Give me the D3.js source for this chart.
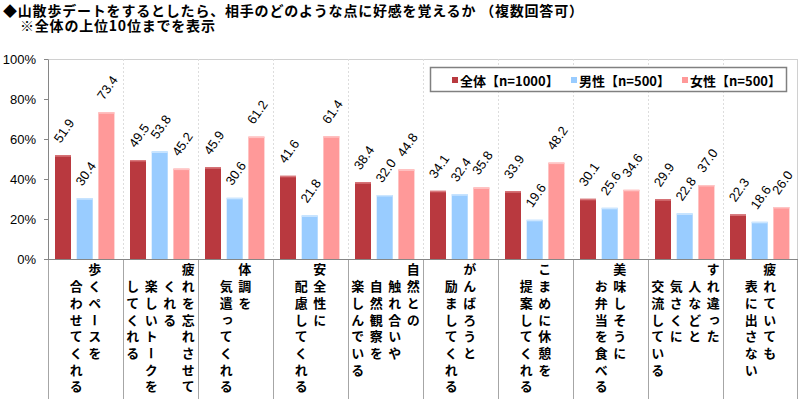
<!DOCTYPE html>
<html>
<head>
<meta charset="utf-8">
<script src="https://cdn.jsdelivr.net/npm/d3@7"></script>
<style>
    body { margin: 0; background: #ffffff; }
    svg { display: block; }
</style>
</head>
<body>
<div id="chart"></div>
<script>
// category labels, one string per vertical column (read right to left)
const categories = [
    ["歩くペースを", "合わせてくれる"],
    ["疲れを忘れさせて", "くれる", "楽しいトークを", "してくれる"],
    ["体調を", "気遣ってくれる"],
    ["安全性に", "配慮してくれる"],
    ["自然との", "触れ合いや", "自然観察を", "楽しんでいる"],
    ["がんばろうと", "励ましてくれる"],
    ["こまめに休憩を", "提案してくれる"],
    ["美味しそうに", "お弁当を食べる"],
    ["すれ違った", "人などと", "気さくに", "交流している"],
    ["疲れていても", "表に出さない"]
];
const seriesNames = ["全体【n=1000】", "男性【n=500】", "女性【n=500】"];
const allValues = [51.9, 49.5, 45.9, 41.6, 38.4, 34.1, 33.9, 30.1, 29.9, 22.3];
const maleValues = [30.4, 53.8, 30.6, 21.8, 32.0, 32.4, 19.6, 25.6, 22.8, 18.6];
const femaleValues = [73.4, 45.2, 61.2, 61.4, 44.8, 35.8, 48.2, 34.6, 37.0, 26.0];
const yTicks = [0, 20, 40, 60, 80, 100];
const titleLines = ["◆山散歩デートをするとしたら、相手のどのような点に好感を覚えるか （複数回答可）", "※全体の上位10位までを表示"];

const colors = ["#b9393f", "#99ccff", "#ff9999"];
const topColors = ["#d9787c", "#cce6ff", "#ffc4c4"];
const jpFont = "'Noto Sans CJK JP', sans-serif";
const numFont = "'Liberation Sans', Arial, sans-serif";

const width = 800;
const height = 399;
const plotLeft = 48;
const plotRight = 798;
const plotTop = 59;
const plotBottom = 259;

const svg = d3.select("#chart")
    .append("svg")
    .attr("width", width)
    .attr("height", height);

// title
titleLines.forEach((t, i) => {
    svg.append("text")
        .attr("x", i == 0 ? 3 : 20)
        .attr("y", 15.5 + i * 15)
        .text(t)
        .style("font-family", jpFont)
        .style("font-size", "14px")
        .style("font-weight", "700")
        .style("letter-spacing", "0.8px")
        .attr("fill", "#000");
});

const series = seriesNames.map((name, i) => ({
    name: name,
    values: [allValues, maleValues, femaleValues][i]
}));

const x0 = d3.scaleBand()
    .domain(d3.range(categories.length))
    .range([plotLeft, plotRight]);
const x1 = d3.scaleBand()
    .domain(d3.range(series.length))
    .range([7, 66.4])
    .paddingInner(0.263);
const y = d3.scaleLinear()
    .domain([0, 100])
    .range([plotBottom, plotTop]);

// frame
svg.append("line")
    .attr("x1", plotLeft).attr("x2", plotRight - 0.5)
    .attr("y1", plotTop + 0.5).attr("y2", plotTop + 0.5)
    .attr("stroke", "#d0d0d0");
svg.append("line")
    .attr("x1", plotRight - 0.5).attr("x2", plotRight - 0.5)
    .attr("y1", plotTop).attr("y2", plotBottom)
    .attr("stroke", "#d0d0d0");

// dotted separators inside plot
for (let i = 1; i < categories.length; i++) {
    const xx = Math.round(x0(i)) + 0.5;
    svg.append("line")
        .attr("x1", xx).attr("x2", xx)
        .attr("y1", plotTop).attr("y2", plotBottom)
        .attr("stroke", "#dddddd")
        .attr("stroke-dasharray", "2,2");
}
// separators under the axis
for (let i = 0; i <= categories.length; i++) {
    const xx = i == categories.length ? plotRight - 0.5 : Math.round(x0(i)) + 0.5;
    svg.append("line")
        .attr("x1", xx).attr("x2", xx)
        .attr("y1", plotBottom).attr("y2", height)
        .attr("stroke", "#a6a6a6");
}

// bars
const groups = svg.selectAll("g.cat")
    .data(categories)
    .enter()
    .append("g")
    .attr("class", "cat")
    .attr("transform", (d, i) => "translate(" + x0(i) + ",0)");

series.forEach((s, si) => {
    groups.append("rect")
        .attr("x", x1(si))
        .attr("y", (d, i) => y(s.values[i]))
        .attr("width", x1.bandwidth())
        .attr("height", (d, i) => plotBottom - y(s.values[i]))
        .attr("fill", colors[si]);
    groups.append("rect")
        .attr("x", x1(si))
        .attr("y", (d, i) => y(s.values[i]))
        .attr("width", x1.bandwidth())
        .attr("height", 1.5)
        .attr("fill", topColors[si]);
    // value labels, rotated
    groups.append("text")
        .text((d, i) => d3.format(".1f")(s.values[i]))
        .attr("text-anchor", "middle")
        .attr("dominant-baseline", "central")
        .style("font-family", numFont)
        .style("font-size", "13px")
        .attr("fill", "#000")
        .attr("transform", (d, i) => {
            const cx = x1(si) + x1.bandwidth() / 2 + 1;
            const cy = y(s.values[i]) - 12 - 12.5;
            return "translate(" + cx + "," + cy + ") rotate(-55)";
        });
});

// y axis
const yAxis = svg.append("g")
    .attr("transform", "translate(" + plotLeft + ",0)")
    .call(d3.axisLeft(y).tickValues(yTicks).tickFormat(d => d + "%").tickSize(4).tickSizeOuter(0).tickPadding(8));
yAxis.select(".domain").attr("stroke", "#868686");
yAxis.selectAll(".tick line").attr("stroke", "#868686");
yAxis.selectAll(".tick text")
    .style("font-family", numFont)
    .style("font-size", "13px")
    .attr("fill", "#000");

// x baseline
svg.append("line")
    .attr("x1", plotLeft).attr("x2", plotRight)
    .attr("y1", plotBottom + 0.5).attr("y2", plotBottom + 0.5)
    .attr("stroke", "#868686");

// vertical category labels
const colStep = 18.5;
const rowStep = 16.7;
categories.forEach((cols, i) => {
    const cx = x0(i) + x0.bandwidth() / 2;
    cols.forEach((str, c) => {
        const colX = cx + (cols.length - 1) / 2 * colStep - c * colStep;
        svg.append("text")
            .attr("x", colX)
            .attr("y", 263 + (c > 0 ? rowStep : 0))
            .text(str)
            .style("writing-mode", "vertical-rl")
            .style("font-family", jpFont)
            .style("font-size", "13px")
            .style("font-weight", "700")
            .style("letter-spacing", (rowStep - 13) + "px")
            .attr("fill", "#000");
    });
});

// legend
const legend = svg.append("g");
legend.append("rect")
    .attr("x", 430.5).attr("y", 67.5)
    .attr("width", 356).attr("height", 24)
    .attr("fill", "#fff")
    .attr("stroke", "#808080")
    .attr("stroke-width", 1.5);
const legendX = [452, 571, 682];
seriesNames.forEach((name, i) => {
    legend.append("rect")
        .attr("x", legendX[i]).attr("y", 77)
        .attr("width", 6).attr("height", 6)
        .attr("fill", colors[i]);
    legend.append("text")
        .attr("x", legendX[i] + 8).attr("y", 80)
        .attr("dominant-baseline", "central")
        .text(name)
        .style("font-family", jpFont)
        .style("font-size", "13px")
        .style("font-weight", "700")
        .attr("fill", "#000");
});
</script>
</body>
</html>
